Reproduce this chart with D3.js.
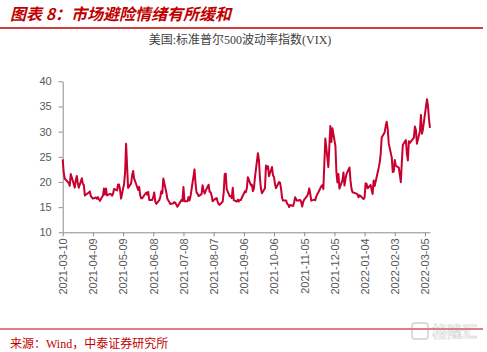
<!DOCTYPE html>
<html>
<head>
<meta charset="utf-8">
<script src="https://cdn.jsdelivr.net/npm/d3@7"></script>
<style>
  body { margin: 0; background: #fff; }
  svg { display: block; }
</style>
</head>
<body>
<svg id="chart"></svg>
<script>
// VIX daily close
const dates = [
  "2021-03-10","2021-03-11","2021-03-12","2021-03-15","2021-03-16","2021-03-17","2021-03-18","2021-03-19","2021-03-22","2021-03-23","2021-03-24","2021-03-25","2021-03-26","2021-03-29","2021-03-30","2021-03-31",
  "2021-04-01","2021-04-05","2021-04-06","2021-04-07","2021-04-08","2021-04-09","2021-04-12","2021-04-13","2021-04-14","2021-04-15","2021-04-16","2021-04-19","2021-04-20","2021-04-21","2021-04-22","2021-04-23","2021-04-26","2021-04-27","2021-04-28","2021-04-29","2021-04-30",
  "2021-05-03","2021-05-04","2021-05-05","2021-05-06","2021-05-07","2021-05-10","2021-05-11","2021-05-12","2021-05-13","2021-05-14","2021-05-17","2021-05-18","2021-05-19","2021-05-20","2021-05-21","2021-05-24","2021-05-25","2021-05-26","2021-05-27","2021-05-28",
  "2021-06-01","2021-06-02","2021-06-03","2021-06-04","2021-06-07","2021-06-08","2021-06-09","2021-06-10","2021-06-11","2021-06-14","2021-06-15","2021-06-16","2021-06-17","2021-06-18","2021-06-21","2021-06-22","2021-06-23","2021-06-24","2021-06-25","2021-06-28","2021-06-29","2021-06-30",
  "2021-07-01","2021-07-02","2021-07-06","2021-07-07","2021-07-08","2021-07-09","2021-07-12","2021-07-13","2021-07-14","2021-07-15","2021-07-16","2021-07-19","2021-07-20","2021-07-21","2021-07-22","2021-07-23","2021-07-26","2021-07-27","2021-07-28","2021-07-29","2021-07-30",
  "2021-08-02","2021-08-03","2021-08-04","2021-08-05","2021-08-06","2021-08-09","2021-08-10","2021-08-11","2021-08-12","2021-08-13","2021-08-16","2021-08-17","2021-08-18","2021-08-19","2021-08-20","2021-08-23","2021-08-24","2021-08-25","2021-08-26","2021-08-27","2021-08-30","2021-08-31",
  "2021-09-01","2021-09-02","2021-09-03","2021-09-07","2021-09-08","2021-09-09","2021-09-10","2021-09-13","2021-09-14","2021-09-15","2021-09-16","2021-09-17","2021-09-20","2021-09-21","2021-09-22","2021-09-23","2021-09-24","2021-09-27","2021-09-28","2021-09-29","2021-09-30",
  "2021-10-01","2021-10-04","2021-10-05","2021-10-06","2021-10-07","2021-10-08","2021-10-11","2021-10-12","2021-10-13","2021-10-14","2021-10-15","2021-10-18","2021-10-19","2021-10-20","2021-10-21","2021-10-22","2021-10-25","2021-10-26","2021-10-27","2021-10-28","2021-10-29",
  "2021-11-01","2021-11-02","2021-11-03","2021-11-04","2021-11-05","2021-11-08","2021-11-09","2021-11-10","2021-11-11","2021-11-12","2021-11-15","2021-11-16","2021-11-17","2021-11-18","2021-11-19","2021-11-22","2021-11-23","2021-11-24","2021-11-26","2021-11-29","2021-11-30",
  "2021-12-01","2021-12-02","2021-12-03","2021-12-06","2021-12-07","2021-12-08","2021-12-09","2021-12-10","2021-12-13","2021-12-14","2021-12-15","2021-12-16","2021-12-17","2021-12-20","2021-12-21","2021-12-22","2021-12-23","2021-12-27","2021-12-28","2021-12-29","2021-12-30","2021-12-31",
  "2022-01-03","2022-01-04","2022-01-05","2022-01-06","2022-01-07","2022-01-10","2022-01-11","2022-01-12","2022-01-13","2022-01-14","2022-01-18","2022-01-19","2022-01-20","2022-01-21","2022-01-24","2022-01-25","2022-01-26","2022-01-27","2022-01-28","2022-01-31",
  "2022-02-01","2022-02-02","2022-02-03","2022-02-04","2022-02-07","2022-02-08","2022-02-09","2022-02-10","2022-02-11","2022-02-14","2022-02-15","2022-02-16","2022-02-17","2022-02-18","2022-02-22","2022-02-23","2022-02-24","2022-02-25","2022-02-28",
  "2022-03-01","2022-03-02","2022-03-03","2022-03-04","2022-03-07","2022-03-08","2022-03-09","2022-03-10"
];
const vix = [
  24.5,21.91,20.69,20.03,19.79,19.23,21.58,20.95,18.88,20.30,21.20,19.81,18.86,20.74,19.61,19.40,
  17.33,17.91,18.12,17.16,16.95,16.69,16.91,16.65,16.99,16.57,16.25,17.29,18.68,17.50,18.71,17.33,17.64,17.56,17.28,17.61,18.61,
  18.31,19.48,19.50,18.39,16.69,19.66,21.84,27.59,23.13,18.81,19.72,21.34,22.18,20.67,20.15,18.40,19.02,17.36,16.74,16.76,
  17.90,17.48,18.04,16.42,16.42,17.07,17.89,16.10,15.65,16.39,17.02,18.15,17.75,20.70,17.89,16.66,16.32,15.97,15.62,15.76,16.02,15.83,
  15.48,15.07,16.44,16.20,19.00,16.18,16.17,16.99,16.33,17.14,18.45,22.50,19.73,17.91,17.69,17.20,17.58,19.36,18.31,17.70,18.24,
  19.46,18.04,17.97,17.28,16.15,16.72,16.79,16.06,15.59,15.45,16.12,17.91,21.57,21.67,18.56,17.15,17.22,16.79,18.84,16.39,16.11,16.48,
  16.11,16.41,16.41,18.14,17.96,18.80,20.95,19.37,19.46,18.18,18.69,20.81,25.71,24.36,20.87,18.63,17.75,18.76,23.25,22.56,23.14,
  21.15,22.96,21.30,21.00,19.54,18.77,20.00,19.85,18.64,16.86,16.30,16.30,15.70,15.49,15.01,15.43,15.24,15.98,16.98,16.53,16.26,
  16.41,16.03,15.10,16.03,16.48,17.22,17.78,18.73,17.66,16.29,16.49,16.37,17.11,17.59,17.91,19.17,19.38,18.58,28.62,22.96,27.19,
  31.12,27.95,30.67,27.18,21.89,19.90,21.58,18.69,20.31,21.89,19.29,20.57,21.57,22.87,20.31,18.63,17.96,17.68,17.54,16.95,17.33,17.22,
  16.60,16.91,19.73,19.61,18.76,19.40,18.41,17.62,20.31,19.19,22.79,23.85,25.59,28.85,29.90,31.16,31.96,30.49,27.66,24.83,
  21.96,22.09,24.35,23.22,22.86,21.44,19.96,23.91,27.36,28.33,25.70,24.29,28.11,27.75,28.81,31.02,30.32,27.59,30.15,
  33.32,29.57,30.48,31.98,36.45,35.13,32.45,30.75
];
const tickLabels = ["2021-03-10","2021-04-09","2021-05-09","2021-06-08","2021-07-08","2021-08-07","2021-09-06",
  "2021-10-06","2021-11-05","2021-12-05","2022-01-04","2022-02-03","2022-03-05"];
const yTicks = [10, 15, 20, 25, 30, 35, 40];

const width = 487, height = 352;
const red = '#c00000';
const lineColor = '#c8002f';
const axisColor = '#8c8c8c';
const labelColor = '#595959';

const svg = d3.select('#chart')
    .attr('width', width)
    .attr('height', height);

const parse = d3.timeParse('%Y-%m-%d');
const data = dates.map((d, i) => ({ date: parse(d), value: vix[i] }));

// header
svg.append('text')
    .attr('x', 10)
    .attr('y', 20)
    .attr('fill', red)
    .style('font-family', '"Noto Sans CJK SC", sans-serif')
    .style('font-size', '16px')
    .style('font-weight', 'bold')
    .style('font-style', 'italic')
    .text('图表 8：市场避险情绪有所缓和');

svg.append('line')
    .attr('x1', 0).attr('x2', 483)
    .attr('y1', 28).attr('y2', 28)
    .style('stroke', red)
    .style('stroke-width', 1.5);

// chart title
svg.append('text')
    .attr('x', 240)
    .attr('y', 44)
    .attr('text-anchor', 'middle')
    .attr('fill', '#404040')
    .style('font-family', '"Liberation Serif", "Noto Sans CJK SC", serif')
    .style('font-size', '12px')
    .text('美国:标准普尔500波动率指数(VIX)');

// scales
const xScale = d3.scaleTime()
    .domain([parse('2021-03-10'), parse('2022-03-10')])
    .range([62.7, 430]);

const yScale = d3.scaleLinear()
    .domain([10, 40])
    .range([232.3, 81.3]);

// y axis
const yAxis = svg.append('g')
    .attr('transform', 'translate(62.7, 0)')
    .call(d3.axisLeft(yScale).tickValues(yTicks).tickSize(4).tickPadding(7).tickSizeOuter(0));
yAxis.select('.domain').style('stroke', axisColor);
yAxis.selectAll('.tick line').style('stroke', axisColor);
yAxis.selectAll('.tick text')
    .attr('fill', labelColor)
    .style('font-family', '"Liberation Sans", Arial, sans-serif')
    .style('font-size', '11px');

// x axis
const xAxis = svg.append('g')
    .attr('transform', `translate(0, ${yScale(10)})`)
    .call(d3.axisBottom(xScale).tickValues(tickLabels.map(parse)).tickFormat(d3.timeFormat('%Y-%m-%d'))
        .tickSize(4).tickSizeOuter(0));
xAxis.select('.domain').style('stroke', axisColor);
xAxis.selectAll('.tick line').style('stroke', axisColor);
xAxis.selectAll('.tick text')
    .attr('fill', labelColor)
    .style('font-family', '"Liberation Sans", Arial, sans-serif')
    .style('font-size', '11px')
    .attr('text-anchor', 'end')
    .attr('transform', 'rotate(-90)')
    .attr('x', -6)
    .attr('y', 0)
    .attr('dy', '0.35em');

// line
const line = d3.line()
    .x(d => xScale(d.date))
    .y(d => yScale(d.value));

svg.append('path')
    .datum(data)
    .attr('d', line)
    .style('fill', 'none')
    .style('stroke', lineColor)
    .style('stroke-width', 2)
    .style('stroke-linejoin', 'round');

// footer
svg.append('line')
    .attr('x1', 0).attr('x2', 483)
    .attr('y1', 329).attr('y2', 329)
    .style('stroke', red)
    .style('stroke-width', 1.2);

svg.append('text')
    .attr('x', 10)
    .attr('y', 348)
    .attr('fill', red)
    .style('font-family', '"Liberation Serif", "Noto Sans CJK SC", serif')
    .style('font-size', '12px')
    .text('来源：Wind，中泰证券研究所');

// watermark
const wm = svg.append('g').attr('opacity', 0.35);
wm.append('rect')
    .attr('x', 412).attr('y', 323)
    .attr('width', 16).attr('height', 16)
    .attr('rx', 3)
    .style('fill', 'none')
    .style('stroke', '#9a9a9a')
    .style('stroke-width', 2);
wm.append('text')
    .attr('x', 432)
    .attr('y', 337)
    .attr('fill', 'none')
    .attr('stroke', '#9a9a9a')
    .attr('stroke-width', 0.8)
    .style('font-family', '"Noto Sans CJK SC", sans-serif')
    .style('font-size', '15px')
    .style('font-weight', 'bold')
    .text('格隆汇');
</script>
</body>
</html>
